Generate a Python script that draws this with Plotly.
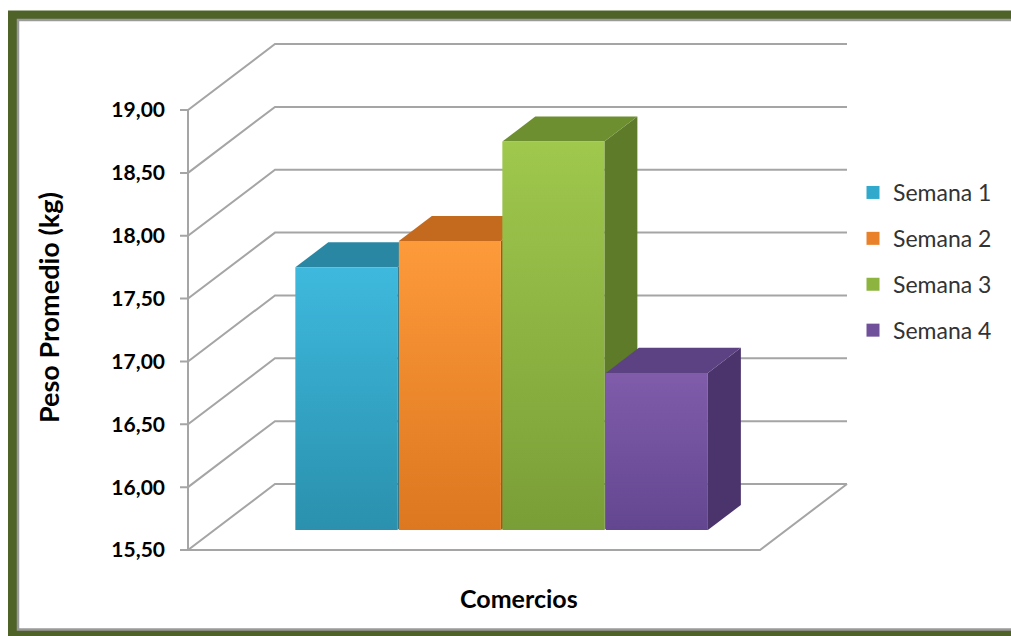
import plotly.graph_objects as go

# ---------------- data ----------------
series = ["Semana 1", "Semana 2", "Semana 3", "Semana 4"]
values = [17.59, 17.80, 18.59, 16.75]
tick_values = [15.5, 16.0, 16.5, 17.0, 17.5, 18.0, 18.5, 19.0]
x_title = "Comercios"
y_title = "Peso Promedio (kg)"

# ---------------- styles ----------------
front_dark = ["#2A90AD", "#DD7720", "#7A9E37", "#634690"]
front_light = ["#3EB9DD", "#FD9A3A", "#9FC84D", "#805CAB"]
top_colors = ["#2A87A4", "#C46A1F", "#6E8F30", "#5D4283"]
side_colors = ["#23738D", "#A3561A", "#5D7B29", "#4B346C"]
legend_colors = ["#31A9CC", "#E9812A", "#8DB43F", "#71509B"]
grid_color = "#A5A5A5"
FONT = "Lato"

W, H = 1011, 636
PL, PR, PT, PB = 176, 852, 40, 556       # plot area (pixels)
PX_X, PX_Y = 103.5, 125.7                 # pixels per unit
X0_PX, Y0_PX = 320, 550                   # pixel of category 0 / floor value
Y0 = tick_values[0]
xrange = [(PL - X0_PX) / PX_X, (PR - X0_PX) / PX_X]
yrange = [Y0 - (PB - Y0_PX) / PX_Y, Y0 + (Y0_PX - PT) / PX_Y]
DX, DY = 87 / PX_X, 66 / PX_Y             # depth offset of the back wall
XL, XR = (188 - X0_PX) / PX_X, (760 - X0_PX) / PX_X
TICK = 8 / PX_X
D0, D1, HW = 0.303, 0.682, 0.493          # bar depth span and half width


def px_to_paper(x, y):
    return (x - PL) / (PR - PL), (PB - y) / (PB - PT)


fig = go.Figure()

# walls / gridlines / floor
gx, gy = [], []
for v in tick_values:
    gx += [XL - TICK, XL, XL + DX, XR + DX, None]
    gy += [v, v, v + DY, v + DY, None]
# front axis line
gx += [XL, XL, None]
gy += [tick_values[0], tick_values[-1], None]
# floor front and right edges
gx += [XL, XR, XR + DX, None]
gy += [Y0, Y0, Y0 + DY, None]
fig.add_trace(go.Scatter(x=gx, y=gy, mode="lines",
                         line=dict(color=grid_color, width=2),
                         hoverinfo="skip", showlegend=False))

# 3D bars
for i, v in enumerate(values):
    fl, fr = i - HW + D0 * DX, i + HW + D0 * DX
    bl, br = i - HW + D1 * DX, i + HW + D1 * DX
    yb0, yt0 = Y0 + D0 * DY, v + D0 * DY
    yb1, yt1 = Y0 + D1 * DY, v + D1 * DY
    # right side
    fig.add_trace(go.Scatter(x=[fr, br, br, fr, fr], y=[yb0, yb1, yt1, yt0, yb0],
                             fill="toself", mode="lines", fillcolor=side_colors[i],
                             line=dict(width=0), hoverinfo="skip", showlegend=False))
    # top
    fig.add_trace(go.Scatter(x=[fl, fr, br, bl, fl], y=[yt0, yt0, yt1, yt1, yt0],
                             fill="toself", mode="lines", fillcolor=top_colors[i],
                             line=dict(width=0), hoverinfo="skip", showlegend=False))
    # front
    fig.add_trace(go.Scatter(x=[fl, fr, fr, fl, fl], y=[yb0, yb0, yt0, yt0, yb0],
                             fill="toself", mode="lines",
                             fillgradient=dict(type="vertical",
                                               colorscale=[[0, front_dark[i]], [1, front_light[i]]]),
                             line=dict(width=0), name=series[i],
                             hovertemplate=series[i] + ": %{text}<extra></extra>",
                             text=[f"{v:.2f}"] * 5, showlegend=False))

# legend entries
for i, name in enumerate(series):
    fig.add_trace(go.Scatter(x=[None], y=[None], mode="markers", name=name,
                             legendgroup=name,
                             marker=dict(symbol="square", size=13, color=legend_colors[i])))

shapes = []
# outer frame (green) and inner thin grey line
x0, y0 = px_to_paper(12.5, 15)
x1, y1 = px_to_paper(1030, 634.5)
shapes.append(dict(type="rect", xref="paper", yref="paper", x0=x0, y0=y0, x1=x1, y1=y1,
                   line=dict(color="#4F6228", width=9), layer="above"))
x0, y0 = px_to_paper(18, 20)
x1, y1 = px_to_paper(1030, 629.5)
shapes.append(dict(type="rect", xref="paper", yref="paper", x0=x0, y0=y0, x1=x1, y1=y1,
                   line=dict(color="#9A9A9A", width=2.5), layer="above"))

ax, ay = px_to_paper(48, 308)
bx, by = px_to_paper(519, 598)
lx, ly = px_to_paper(853, 171)

fig.update_layout(
    width=W, height=H,
    margin=dict(l=PL, r=W - PR, t=PT, b=H - PB),
    paper_bgcolor="white", plot_bgcolor="white",
    separators=",.",
    xaxis=dict(range=xrange, visible=False, fixedrange=True),
    yaxis=dict(range=yrange, tickvals=tick_values, tickformat=".2f",
               showgrid=False, zeroline=False, showline=False, ticks="",
               ticklabelstandoff=10,
               tickfont=dict(family=FONT, size=21, color="#000000", weight="bold"),
               fixedrange=True),
    showlegend=True,
    legend=dict(x=lx, y=ly, xanchor="left", yanchor="top",
                font=dict(family=FONT, size=23, color="#333333"),
                traceorder="grouped", tracegroupgap=13,
                bgcolor="rgba(0,0,0,0)", borderwidth=0),
    shapes=shapes,
    annotations=[
        dict(text=y_title, xref="paper", yref="paper", x=ax, y=ay, textangle=-90,
             xanchor="center", yanchor="middle",
             showarrow=False, font=dict(family=FONT, size=27, color="#000000", weight="bold")),
        dict(text=x_title, xref="paper", yref="paper", x=bx, y=by,
             xanchor="center", yanchor="middle",
             showarrow=False, font=dict(family=FONT, size=25, color="#000000", weight="bold")),
    ],
)

fig.write_html("out.html", config={"displayModeBar": False},
               post_script="document.body.style.margin='0';document.body.style.overflow='hidden';")
